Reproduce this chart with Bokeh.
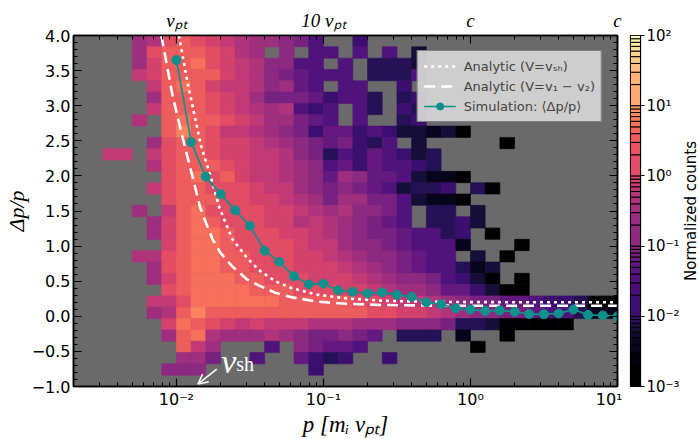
import math
import numpy as np
from bokeh.plotting import figure
from bokeh.models import (LogAxis, LinearAxis, FixedTicker, SingleIntervalTicker,
                          CustomJSTickFormatter, Legend, LegendItem, Label, Arrow, OpenHead)
from bokeh.layouts import row
from bokeh.palettes import Magma256
from bokeh.embed import file_html
from bokeh.resources import INLINE

# ---------------- data ----------------
log_p_edges = np.round(np.linspace(-2.7, 1.0, 38), 3)   # log10(p) bin edges (37 bins)
dpp_edges = np.linspace(-1.0, 4.0, 32)                   # dp/p bin edges (31 bins)

# 2D histogram, top row (dp/p ~ 4) first.
# each char = colour level L (0..G = 0..16, dark -> bright); "." = empty bin
hist_cols_0_3 = ["....", "....", "....", "....", "....", "....", "....", "....",
                 "....", "....", "..BB", "....", "....", "....", "....", "....",
                 "....", "....", "....", "....", "....", "....", "....", "....",
                 "....", "....", "....", "....", "....", "....", "...."]
hist_cols_4_17 = ["9ADEDCBA99875.", "9DEEEDCA9.8.55", "9CEEFDCBA8855.", "BCEEEECBA87655",
                  ".BEFECBBA8965.", ".9EEEDCB977764", ".BEEEDCBA9A545", "A.EFEEDCB99765",
                  "..EGEDBBA98746", ".9DEEDCCBA9876", ".BDEEDCCBBA873", ".ADEEEDCBBA985",
                  "..DEFDECBBA986", ".BDEEDDDCBB987", "..DEEEDDCCBA97", "9.BEFDDDDCCBA9",
                  ".9CEFEDDDCCABA", ".9CEFFEDDDCCBA", "..CEFFEDDDDCBB", "AADEFFEEDDDCCB",
                  ".9DEFFEEDDDCCC", ".9CEFFFEEDDDCC", "..DEFFFFEEEDDD", ".BBDFFFFFFEEEE",
                  ".9AEGEEEEEEEEE", "..CFEDCBCBBBAA", "..9EFA999A9877", "...EB9...5.876",
                  "...997..5..643", "..888.......4.", ".............."]
hist_cols_18_36 = [".4", ".5.5.2", "5.3332", "5.3335", "55..4", "553.34", ".53.43", ".5..34",
                   "645422120", "7435.2.....0", "5465423", "6465543", "986652110",
                   "87652334.30", "997752110", "A8875.33.2", "98765.3342", "987765534.0",
                   "988765551...0", "A9887655.2.0", "BA987655312", "CBA98875420.0",
                   "CCBA998664200", "EDDCBBA987766544300", "EEDDCCBA98877655311",
                   "A999888733200000", "876.333.1..0", "65.......0", "4..4", "", ""]

# simulation mean <dp/p>
sim_p = [0.0100, 0.0126, 0.0158, 0.0200, 0.0251, 0.0316, 0.0398, 0.0501, 0.0631, 0.0794,
         0.100, 0.126, 0.158, 0.200, 0.251, 0.316, 0.398, 0.501, 0.631, 0.794,
         1.00, 1.26, 1.58, 2.00, 2.51, 3.16, 3.98, 5.01, 6.31, 7.94, 10.0]
sim_dpp = [3.65, 2.48, 1.99, 1.74, 1.51, 1.29, 0.935, 0.775, 0.57, 0.455,
           0.465, 0.37, 0.35, 0.326, 0.34, 0.305, 0.277, 0.20, 0.172, 0.113,
           0.098, 0.075, 0.084, 0.065, 0.032, 0.030, 0.041, 0.096, 0.020, 0.013, 0.0]

# analytic curves
vsh_p = [0.0104, 0.0119, 0.0147, 0.0176, 0.0195, 0.024, 0.030, 0.0363, 0.047, 0.061,
         0.09, 0.143, 0.25, 0.5, 1.0, 3.0, 10.0]
vsh_dpp = [4.0, 3.33, 2.43, 1.90, 1.56, 1.10, 0.84, 0.66, 0.50, 0.40,
           0.31, 0.255, 0.222, 0.207, 0.202, 0.20, 0.20]
v12_p = [0.0079, 0.0094, 0.0110, 0.0129, 0.0145, 0.0159, 0.0176, 0.020, 0.024, 0.030,
         0.0363, 0.047, 0.061, 0.09, 0.143, 0.25, 0.5, 1.0, 3.0, 10.0]
v12_dpp = [4.0, 3.15, 2.55, 1.98, 1.55, 1.33, 1.10, 0.90, 0.71, 0.53,
           0.44, 0.335, 0.27, 0.21, 0.178, 0.161, 0.153, 0.15, 0.15, 0.15]

# tick labels
x_tick_values = [0.01, 0.1, 1.0, 10.0]
top_tick_labels = ["v\u209a\u209c", "10 v\u209a\u209c", "c", "c"]
cbar_tick_values = [1e-3, 1e-2, 1e-1, 1.0, 10.0, 100.0]
cbar_mantissas = list(range(1, 10))
cbar_decades = [-3, -2, -1, 0, 1]
cbar_title = "Normalized counts"

TEAL = "#0e918d"

SUP_JS = """
const s = {"-":"\u207b","0":"\u2070","1":"\u00b9","2":"\u00b2","3":"\u00b3","4":"\u2074",
           "5":"\u2075","6":"\u2076","7":"\u2077","8":"\u2078","9":"\u2079"};
const e = Math.round(Math.log10(tick));
return "10" + String(e).split("").map(c => s[c]).join("");
"""
EMPTY_JS = "return '';"
TOP_JS = """
const i = tvals.findIndex(t => Math.abs(Math.log10(t) - Math.log10(tick)) < 1e-6);
return i >= 0 ? tlabels[i] : '';
"""


def level_colour(lvl):
    t = lvl / 20 if lvl <= 8 else 0.4 + (lvl - 8) * 0.043
    return Magma256[int(round(t * 255))]


def style_axis(ax):
    ax.major_tick_in = 8
    ax.major_tick_out = 0
    ax.minor_tick_in = 4
    ax.minor_tick_out = 0
    ax.major_tick_line_color = "black"
    ax.minor_tick_line_color = "black"
    ax.major_tick_line_width = 1.2
    ax.minor_tick_line_width = 1
    ax.axis_line_color = "black"
    ax.axis_line_width = 1.5
    ax.major_label_text_font = "DejaVu Sans"
    ax.major_label_text_font_size = "16px"
    ax.major_label_text_color = "black"
    ax.major_label_standoff = 3
    ax.axis_label_text_font = "Liberation Serif"
    ax.axis_label_text_font_style = "italic"
    ax.axis_label_text_font_size = "23px"
    ax.axis_label_text_color = "black"
    ax.axis_label_standoff = 0


# ---------------- main panel ----------------
p = figure(width=622, height=439, x_axis_type="log", x_range=(10 ** -2.7, 10.0),
           y_range=(-1.0, 4.0), output_backend="svg", toolbar_location=None,
           min_border_left=69, min_border_right=5, min_border_top=35, min_border_bottom=53)
p.background_fill_color = "#6a6a6a"
p.border_fill_color = "white"
p.xgrid.visible = False
p.ygrid.visible = False
p.outline_line_color = "black"
p.outline_line_width = 1.5

L, R, B, T, C = [], [], [], [], []
nrows = len(dpp_edges) - 1
for r in range(nrows):
    rowstr = (hist_cols_0_3[r].ljust(4, ".")[:4] + hist_cols_4_17[r].ljust(14, ".")[:14]
              + hist_cols_18_36[r].ljust(19, ".")[:19])
    k = nrows - 1 - r
    for i, ch in enumerate(rowstr):
        if ch == ".":
            continue
        col = level_colour(int(ch, 17))
        L.append(10 ** log_p_edges[i])
        R.append(10 ** log_p_edges[i + 1])
        B.append(dpp_edges[k])
        T.append(dpp_edges[k + 1])
        C.append(col)
p.quad(left=L, right=R, bottom=B, top=T, fill_color=C, line_color=C, line_width=0.6)

r_dot = p.line(vsh_p, vsh_dpp, line_color="white", line_width=2.6, line_dash="3 4")
r_dash = p.line(v12_p, v12_dpp, line_color="white", line_width=2.6, line_dash="11 6")
r_sl = p.line(sim_p, sim_dpp, line_color=TEAL, line_width=1.7)
r_sc = p.scatter(sim_p, sim_dpp, size=9, fill_color=TEAL, line_color=TEAL)

x_minor = [m * 10.0 ** e for e in (-3, -2, -1, 0) for m in range(2, 10) if m * 10.0 ** e > 0.002]
xt = FixedTicker(ticks=x_tick_values, minor_ticks=x_minor)
yt = SingleIntervalTicker(interval=0.5, num_minor_ticks=5)

xa = p.xaxis[0]
xa.ticker = xt
xa.formatter = CustomJSTickFormatter(code=SUP_JS)
style_axis(xa)
xa.axis_label = "p [m\u1d62 v\u209a\u209c]"

ya = p.yaxis[0]
ya.ticker = yt
ya.formatter = CustomJSTickFormatter(code="return (tick < 0 ? '\u2212' : '') + Math.abs(tick).toFixed(1);")
style_axis(ya)
ya.axis_label_text_font_size = "22px"
ya.axis_label = "\u0394p/p"

top = LogAxis(ticker=xt, formatter=CustomJSTickFormatter(
    args=dict(tvals=x_tick_values, tlabels=top_tick_labels), code=TOP_JS))
style_axis(top)
top.major_label_text_font = "Liberation Serif"
top.major_label_text_font_style = "italic"
top.major_label_text_font_size = "19px"
top.major_label_standoff = 5
p.add_layout(top, "above")

right = LinearAxis(ticker=yt, formatter=CustomJSTickFormatter(code=EMPTY_JS))
style_axis(right)
right.major_label_standoff = 0
p.add_layout(right, "right")

legend = Legend(items=[
    LegendItem(label="Analytic (V=v\u209b\u2095)", renderers=[r_dot]),
    LegendItem(label="Analytic (V=v\u2081 \u2212 v\u2082)", renderers=[r_dash]),
    LegendItem(label="Simulation: \u27e8\u0394p/p\u27e9", renderers=[r_sl, r_sc]),
], location="top_right")
legend.margin = 15
legend.padding = 6
legend.spacing = 2
legend.glyph_height = 18
legend.glyph_width = 32
legend.label_height = 18
legend.label_standoff = 8
legend.label_text_font = "DejaVu Sans"
legend.label_text_font_size = "13px"
legend.background_fill_color = "#d4d4d4"
legend.background_fill_alpha = 0.95
legend.border_line_color = "#333333"
legend.border_line_width = 1
p.add_layout(legend)

# v_sh annotation
p.add_layout(Label(x=0.0202, y=-0.65, text="v", text_font="Liberation Serif",
                   text_font_style="italic", text_font_size="34px", text_color="white",
                   text_baseline="alphabetic"))
p.add_layout(Label(x=0.0202, y=-0.68, x_offset=15, text="sh", text_font="Liberation Serif",
                   text_font_size="20px", text_color="white", text_baseline="alphabetic"))
p.add_layout(Arrow(end=OpenHead(size=10, line_color="white", line_width=1.5),
                   x_start=0.0188, y_start=-0.752, x_end=0.0140, y_end=-0.966,
                   line_color="white", line_width=1.5))

# ---------------- colour bar ----------------
cb_lo = [m * 10.0 ** e for e in cbar_decades for m in cbar_mantissas]
cb_hi = cb_lo[1:] + [100.0]
nb = len(cb_lo)
cb_cols = [Magma256[int(round(i / (nb - 1) * 255))] for i in range(nb)]

cb = figure(width=60, height=439, y_axis_type="log", y_range=(1e-3, 1e2), x_range=(0, 1),
            output_backend="svg", toolbar_location=None, y_axis_location="right",
            x_axis_location=None, min_border_left=8, min_border_right=37,
            min_border_top=35, min_border_bottom=53)
cb.xgrid.visible = False
cb.ygrid.visible = False
cb.outline_line_color = "black"
cb.outline_line_width = 1.2
cb.quad(left=0, right=1, bottom=cb_lo, top=cb_hi, fill_color=cb_cols,
        line_color="black", line_width=1)
ca = cb.yaxis[0]
ca.ticker = FixedTicker(ticks=cbar_tick_values, minor_ticks=[])
ca.formatter = CustomJSTickFormatter(code=SUP_JS)
ca.major_tick_out = 4
ca.major_tick_in = 0
ca.minor_tick_out = 0
ca.minor_tick_in = 0
ca.major_tick_line_color = "black"
ca.axis_line_color = "black"
ca.major_label_text_font = "DejaVu Sans"
ca.major_label_text_font_size = "15px"
ca.major_label_text_color = "black"
ca.major_label_standoff = 2

# colour-bar title (rotated, reads bottom to top)
lab = figure(width=17, height=439, x_range=(0, 1), y_range=(0, 1), output_backend="svg",
             toolbar_location=None, x_axis_location=None, y_axis_location=None,
             min_border_left=0, min_border_right=0, min_border_top=35, min_border_bottom=53)
lab.outline_line_color = None
lab.xgrid.visible = False
lab.ygrid.visible = False
lab.background_fill_color = "white"
lab.add_layout(Label(x=0.5, y=0.5, text=cbar_title, angle=math.pi / 2,
                     text_align="center", text_baseline="middle",
                     text_font="DejaVu Sans", text_font_size="15px", text_color="black"))

layout = row(p, cb, lab)
open("out.html", "w").write(file_html(layout, INLINE))
